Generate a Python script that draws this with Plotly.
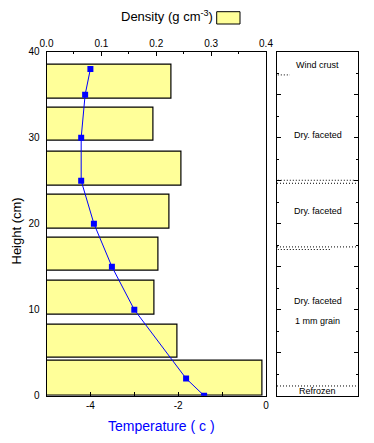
import plotly.graph_objects as go

# ---- data ----
layer_bottom = [0.0, 4.4, 9.4, 14.5, 19.4, 24.4, 29.6, 34.5]
layer_top = [4.06, 8.3, 13.4, 18.4, 23.4, 28.4, 33.5, 38.5]
density = [0.393, 0.238, 0.197, 0.205, 0.225, 0.246, 0.195, 0.227]

temp_height = [0, 2, 10, 15, 20, 25, 30, 35, 38]
temperature = [-1.41, -1.82, -3.0, -3.51, -3.92, -4.21, -4.21, -4.12, -4.0]

temp_tickvals = [-4, -2, 0]
temp_ticktext = ["-4", "-2", "0"]

strat_labels = ["Wind crust", "Dry. faceted", "Dry. faceted", "Dry. faceted", "1 mm grain", "Refrozen"]
strat_label_height = [38.5, 30.35, 21.5, 11.05, 8.65, 0.5]

# dotted layer boundaries: (height, start fraction, end fraction)
boundary_height = [37.3, 25.05, 24.7, 17.3, 17.0, 1.13]
boundary_start = [0.01, 0.01, 0.0, 0.0, 0.01, 0.0]
boundary_end = [0.16, 0.96, 1.0, 1.0, 0.65, 1.0]

# ---- geometry (pixels) ----
W, H = 374, 443
def px(x):
    return x / W
def py(y):
    return 1 - y / H

main_dom_x = [px(46.5), px(266)]
side_dom_x = [px(277), px(358.3)]
dom_y = [py(395.7), py(51.7)]

centers = [(b + t) / 2 for b, t in zip(layer_bottom, layer_top)]
widths = [(t - b) for b, t in zip(layer_bottom, layer_top)]

fig = go.Figure()

# density bars on the base x axis (drawn beneath the overlay)
fig.add_trace(go.Bar(
    x=density, y=centers, width=widths, orientation="h",
    xaxis="x", yaxis="y",
    marker=dict(color="#FFFF99", line=dict(color="black", width=1.2)),
    showlegend=False, hoverinfo="skip",
))

# temperature profile on overlaying axis (drawn on top)
fig.add_trace(go.Scatter(
    x=temperature, y=temp_height, xaxis="x2", yaxis="y",
    mode="lines+markers",
    line=dict(color="#0000FF", width=1),
    marker=dict(symbol="square", size=6, color="#0000FF"),
    showlegend=False, cliponaxis=True,
))

font = "Liberation Sans, Arial, sans-serif"

fig.update_layout(
    width=W, height=H, autosize=False,
    margin=dict(l=0, r=0, t=0, b=0, autoexpand=False),
    paper_bgcolor="white", plot_bgcolor="white",
    font=dict(family=font, size=10, color="black"),
    bargap=0,
    xaxis=dict(
        domain=main_dom_x, range=[0, 0.4], anchor="y", side="top",
        showline=True, linecolor="black", linewidth=1,
        showgrid=False, zeroline=False, automargin=False,
        ticks="inside", ticklen=4, tickcolor="black",
        dtick=0.1, tick0=0, tickformat=".1f",
        minor=dict(dtick=0.05, ticks="inside", ticklen=2, tickcolor="black"),
        tickfont=dict(size=10),
    ),
    xaxis2=dict(
        overlaying="x", range=[-5, 0], anchor="y", side="bottom",
        showline=True, linecolor="black", linewidth=1,
        showgrid=False, zeroline=False, automargin=False,
        ticks="inside", ticklen=4, tickcolor="black",
        tickmode="array", tickvals=temp_tickvals, ticktext=temp_ticktext,
        minor=dict(dtick=1, tick0=0, ticks="inside", ticklen=4, tickcolor="black"),
        tickfont=dict(size=10),
    ),
    yaxis=dict(
        domain=dom_y, range=[0, 40], anchor="x",
        showline=True, linecolor="black", linewidth=1, mirror=True,
        showgrid=False, zeroline=False, automargin=False,
        ticks="", dtick=10, tick0=0,
        tickfont=dict(size=10), ticklabelstandoff=4,
    ),
    yaxis2=dict(
        overlaying="y", range=[0, 40], anchor="x", side="right",
        showline=False, showgrid=False, zeroline=False, automargin=False,
        ticks="inside", ticklen=4, tickcolor="black", dtick=5, tick0=0,
        minor=dict(dtick=2.5, ticks="inside", ticklen=2, tickcolor="black"),
        showticklabels=False,
    ),
    xaxis3=dict(
        domain=side_dom_x, range=[0, 1], anchor="y3",
        showline=True, linecolor="black", linewidth=1, mirror=True,
        showgrid=False, zeroline=False, ticks="", showticklabels=False,
        automargin=False,
    ),
    yaxis3=dict(
        domain=dom_y, range=[0, 40], anchor="x3",
        showline=True, linecolor="black", linewidth=1, mirror="ticks",
        showgrid=False, zeroline=False, automargin=False,
        ticks="inside", ticklen=4, tickcolor="black", dtick=5, tick0=0,
        minor=dict(dtick=2.5, ticks="inside", ticklen=2, tickcolor="black"),
        showticklabels=False,
    ),
)

shapes = []
for h, s, e in zip(boundary_height, boundary_start, boundary_end):
    shapes.append(dict(type="line", xref="x3", yref="y3", x0=s, x1=e, y0=h, y1=h,
                       line=dict(color="black", width=1, dash="1px,2px")))
# legend swatch
shapes.append(dict(type="rect", xref="paper", yref="paper",
                   x0=px(216.7), x1=px(240), y0=py(24), y1=py(11.7),
                   fillcolor="#FFFF99", line=dict(color="black", width=1)))
fig.update_layout(shapes=shapes)

annotations = []
for txt, h in zip(strat_labels, strat_label_height):
    annotations.append(dict(text=txt, x=0.5, y=h, xref="x3", yref="y3",
                            showarrow=False, font=dict(size=9, family=font),
                            xanchor="center", yanchor="middle"))
annotations.append(dict(text="Density (g cm<sup>-3</sup>)", x=px(215), y=py(16),
                        xref="paper", yref="paper", showarrow=False,
                        xanchor="right", yanchor="middle", font=dict(size=13, family=font)))
annotations.append(dict(text="Height (cm)", x=px(16), y=py(231.5), xref="paper", yref="paper",
                        showarrow=False, textangle=-90, xanchor="center", yanchor="middle",
                        font=dict(size=13, family=font)))
annotations.append(dict(text="Temperature ( c )", x=px(161.4), y=py(426), xref="paper", yref="paper",
                        showarrow=False, xanchor="center", yanchor="middle",
                        font=dict(size=14, family=font, color="#0000FF")))
fig.update_layout(annotations=annotations)

fig.write_html("out.html", config={"displayModeBar": False},
               post_script="document.body.style.margin='0px';")
